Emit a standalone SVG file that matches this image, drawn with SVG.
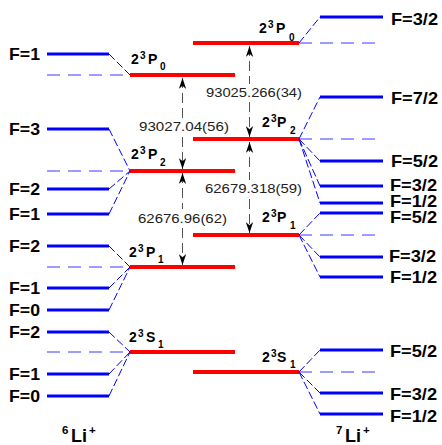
<svg xmlns="http://www.w3.org/2000/svg" width="442" height="445" viewBox="0 0 442 445">
  <defs>
    <style>
      .fine   { fill: none; stroke: #0000ff; stroke-width: 3; }
      .fs     { fill: none; stroke: #ff0000; stroke-width: 4; }
      .hdash  { fill: none; stroke: #3a3aff; stroke-width: 1; stroke-dasharray: 13 8; }
      .diag   { fill: none; stroke: #0000ff; stroke-width: 1; stroke-dasharray: 8 3; }
      .gap    { fill: none; stroke: #555; stroke-width: 1; stroke-dasharray: 10 5; }
      .flab   { font-family: "Liberation Sans", Arial, sans-serif; font-weight: bold; font-size: 17px; fill: #000; }
      .term   { font-family: "Liberation Sans", Arial, sans-serif; font-weight: bold; font-size: 14px; fill: #000; }
      .small  { font-size: 10px; }
      .num    { font-family: "Liberation Sans", Arial, sans-serif; font-size: 13.5px; fill: #222; }
      .iso    { font-family: "Liberation Sans", Arial, sans-serif; font-weight: bold; font-size: 18px; fill: #000; }
      .isos   { font-size: 11.5px; }
    </style>
    <marker id="barb" viewBox="0 0 12 8" refX="12" refY="4" markerWidth="11" markerHeight="8" markerUnits="userSpaceOnUse" orient="auto-start-reverse">
      <path d="M12,4 L0,0 L3.5,4 L0,8 Z" fill="#000"/>
    </marker>
  </defs>

  <rect width="442" height="445" fill="#fff"/>

  <!-- fine-structure levels (red) with term labels -->
  <g id="li6-2p0">
    <line class="fs" x1="130" y1="75" x2="235" y2="75"/>
    <text class="term" x="131" y="64">2<tspan class="small" x="140" y="59">3</tspan><tspan x="148" y="64">P</tspan><tspan class="small" x="160" y="70">0</tspan></text>
  </g>
  <g id="li6-2p2">
    <line class="fs" x1="130" y1="171" x2="235" y2="171"/>
    <text class="term" x="131" y="159">2<tspan class="small" x="140" y="154">3</tspan><tspan x="148" y="159">P</tspan><tspan class="small" x="160" y="166">2</tspan></text>
  </g>
  <g id="li6-2p1">
    <line class="fs" x1="130" y1="267" x2="235" y2="267"/>
    <text class="term" x="129" y="257">2<tspan class="small" x="138" y="252">3</tspan><tspan x="146" y="257">P</tspan><tspan class="small" x="158" y="263">1</tspan></text>
  </g>
  <g id="li6-2s1">
    <line class="fs" x1="130" y1="352" x2="235" y2="352"/>
    <text class="term" x="129" y="342">2<tspan class="small" x="138" y="337">3</tspan><tspan x="146" y="342">S</tspan><tspan class="small" x="158" y="348">1</tspan></text>
  </g>

  <g id="li7-2p0">
    <line class="fs" x1="193" y1="43" x2="299" y2="43"/>
    <text class="term" x="259" y="33">2<tspan class="small" x="268" y="28">3</tspan><tspan x="276" y="33">P</tspan><tspan class="small" x="289" y="41">0</tspan></text>
  </g>
  <g id="li7-2p2">
    <line class="fs" x1="193" y1="139" x2="299" y2="139"/>
    <text class="term" x="262" y="127">2<tspan class="small" x="271" y="122">3</tspan><tspan x="277" y="127">P</tspan><tspan class="small" x="290" y="134">2</tspan></text>
  </g>
  <g id="li7-2p1">
    <line class="fs" x1="193" y1="235" x2="299" y2="235"/>
    <text class="term" x="262" y="222">2<tspan class="small" x="271" y="217">3</tspan><tspan x="277" y="222">P</tspan><tspan class="small" x="290" y="229">1</tspan></text>
  </g>
  <g id="li7-2s1">
    <line class="fs" x1="193" y1="372" x2="299" y2="372"/>
    <text class="term" x="262" y="362">2<tspan class="small" x="271" y="357">3</tspan><tspan x="277" y="362">S</tspan><tspan class="small" x="290" y="368">1</tspan></text>
  </g>

  <!-- hyperfine levels, 6Li+ -->
  <g id="li6-p0-f1"><line class="fine" x1="47" y1="54" x2="109" y2="54"/><text class="flab" x="9" y="60" textLength="31" lengthAdjust="spacingAndGlyphs">F=1</text></g>
  <g id="li6-p2-f3"><line class="fine" x1="47" y1="129" x2="109" y2="129"/><text class="flab" x="9" y="135" textLength="31" lengthAdjust="spacingAndGlyphs">F=3</text></g>
  <g id="li6-p2-f2"><line class="fine" x1="47" y1="189" x2="109" y2="189"/><text class="flab" x="9" y="195" textLength="31" lengthAdjust="spacingAndGlyphs">F=2</text></g>
  <g id="li6-p2-f1"><line class="fine" x1="47" y1="214" x2="109" y2="214"/><text class="flab" x="9" y="220" textLength="31" lengthAdjust="spacingAndGlyphs">F=1</text></g>
  <g id="li6-p1-f2"><line class="fine" x1="47" y1="246" x2="109" y2="246"/><text class="flab" x="9" y="252" textLength="31" lengthAdjust="spacingAndGlyphs">F=2</text></g>
  <g id="li6-p1-f1"><line class="fine" x1="47" y1="288" x2="109" y2="288"/><text class="flab" x="9" y="294" textLength="31" lengthAdjust="spacingAndGlyphs">F=1</text></g>
  <g id="li6-p1-f0"><line class="fine" x1="47" y1="310" x2="109" y2="310"/><text class="flab" x="9" y="316" textLength="31" lengthAdjust="spacingAndGlyphs">F=0</text></g>
  <g id="li6-s1-f2"><line class="fine" x1="47" y1="332" x2="109" y2="332"/><text class="flab" x="9" y="338" textLength="31" lengthAdjust="spacingAndGlyphs">F=2</text></g>
  <g id="li6-s1-f1"><line class="fine" x1="47" y1="374" x2="109" y2="374"/><text class="flab" x="9" y="380" textLength="31" lengthAdjust="spacingAndGlyphs">F=1</text></g>
  <g id="li6-s1-f0"><line class="fine" x1="47" y1="396" x2="109" y2="396"/><text class="flab" x="9" y="402" textLength="31" lengthAdjust="spacingAndGlyphs">F=0</text></g>

  <!-- hyperfine levels, 7Li+ -->
  <g id="li7-p0-f32"><line class="fine" x1="320" y1="17" x2="383" y2="17"/><text class="flab" x="391" y="25" textLength="47" lengthAdjust="spacingAndGlyphs">F=3/2</text></g>
  <g id="li7-p2-f72"><line class="fine" x1="320" y1="97" x2="383" y2="97"/><text class="flab" x="391" y="104" textLength="47" lengthAdjust="spacingAndGlyphs">F=7/2</text></g>
  <g id="li7-p2-f52"><line class="fine" x1="320" y1="161" x2="383" y2="161"/><text class="flab" x="391" y="167" textLength="47" lengthAdjust="spacingAndGlyphs">F=5/2</text></g>
  <g id="li7-p2-f32"><line class="fine" x1="320" y1="186" x2="383" y2="186"/><text class="flab" x="390" y="191" textLength="47" lengthAdjust="spacingAndGlyphs">F=3/2</text></g>
  <g id="li7-p2-f12"><line class="fine" x1="320" y1="203" x2="383" y2="203"/><text class="flab" x="390" y="207" textLength="47" lengthAdjust="spacingAndGlyphs">F=1/2</text></g>
  <g id="li7-p1-f52"><line class="fine" x1="320" y1="213" x2="383" y2="213"/><text class="flab" x="390" y="223" textLength="47" lengthAdjust="spacingAndGlyphs">F=5/2</text></g>
  <g id="li7-p1-f32"><line class="fine" x1="320" y1="257" x2="383" y2="257"/><text class="flab" x="389" y="262" textLength="47" lengthAdjust="spacingAndGlyphs">F=3/2</text></g>
  <g id="li7-p1-f12"><line class="fine" x1="320" y1="277" x2="383" y2="277"/><text class="flab" x="390" y="283" textLength="47" lengthAdjust="spacingAndGlyphs">F=1/2</text></g>
  <g id="li7-s1-f52"><line class="fine" x1="320" y1="350" x2="383" y2="350"/><text class="flab" x="390" y="357" textLength="47" lengthAdjust="spacingAndGlyphs">F=5/2</text></g>
  <g id="li7-s1-f32"><line class="fine" x1="320" y1="393" x2="383" y2="393"/><text class="flab" x="390" y="400" textLength="47" lengthAdjust="spacingAndGlyphs">F=3/2</text></g>
  <g id="li7-s1-f12"><line class="fine" x1="320" y1="414" x2="383" y2="414"/><text class="flab" x="390" y="422" textLength="47" lengthAdjust="spacingAndGlyphs">F=1/2</text></g>

  <!-- connectors: centroid guides, hyperfine fan-outs, interval arrows -->
  <g id="connectors">
    <!-- unsplit (centroid) positions -->
    <line class="hdash" x1="47" y1="75" x2="130" y2="75"/>
    <line class="hdash" x1="47" y1="171" x2="130" y2="171"/>
    <line class="hdash" x1="47" y1="267" x2="130" y2="267"/>
    <line class="hdash" x1="47" y1="352" x2="130" y2="352"/>
    <line class="hdash" x1="299" y1="43" x2="383" y2="43"/>
    <line class="hdash" x1="299" y1="139" x2="383" y2="139"/>
    <line class="hdash" x1="299" y1="235" x2="383" y2="235"/>
    <line class="hdash" x1="299" y1="372" x2="383" y2="372"/>

    <!-- 6Li+ fan-outs -->
    <line class="diag" x1="109" y1="54" x2="130" y2="75"/>
    <line class="diag" x1="109" y1="129" x2="130" y2="171"/>
    <line class="diag" x1="109" y1="189" x2="130" y2="171"/>
    <line class="diag" x1="109" y1="214" x2="130" y2="171"/>
    <line class="diag" x1="109" y1="246" x2="130" y2="267"/>
    <line class="diag" x1="109" y1="288" x2="130" y2="267"/>
    <line class="diag" x1="109" y1="310" x2="130" y2="267"/>
    <line class="diag" x1="109" y1="332" x2="130" y2="352"/>
    <line class="diag" x1="109" y1="374" x2="130" y2="352"/>
    <line class="diag" x1="109" y1="396" x2="130" y2="352"/>

    <!-- 7Li+ fan-outs -->
    <line class="diag" x1="299" y1="43" x2="320" y2="17"/>
    <line class="diag" x1="299" y1="139" x2="320" y2="97"/>
    <line class="diag" x1="299" y1="139" x2="320" y2="161"/>
    <line class="diag" x1="299" y1="139" x2="320" y2="186"/>
    <line class="diag" x1="299" y1="139" x2="320" y2="203"/>
    <line class="diag" x1="299" y1="235" x2="320" y2="213"/>
    <line class="diag" x1="299" y1="235" x2="320" y2="257"/>
    <line class="diag" x1="299" y1="235" x2="320" y2="277"/>
    <line class="diag" x1="299" y1="372" x2="320" y2="350"/>
    <line class="diag" x1="299" y1="372" x2="320" y2="393"/>
    <line class="diag" x1="299" y1="372" x2="320" y2="414"/>

    <!-- interval arrows, split around their values -->
    <path class="gap" d="M182.5,78 V118" marker-start="url(#barb)"/>
    <path class="gap" d="M182.5,137 V169" marker-end="url(#barb)"/>
    <path class="gap" d="M182.5,173 V209" marker-start="url(#barb)"/>
    <path class="gap" d="M182.5,228 V265" marker-end="url(#barb)"/>
    <path class="gap" d="M249.5,46 V84" marker-start="url(#barb)"/>
    <path class="gap" d="M249.5,102 V137" marker-end="url(#barb)"/>
    <path class="gap" d="M249.5,142 V180" marker-start="url(#barb)"/>
    <path class="gap" d="M249.5,199 V233" marker-end="url(#barb)"/>
  </g>

  <!-- interval values -->
  <g id="intervals">
    <text class="num" x="139" y="131" textLength="90" lengthAdjust="spacingAndGlyphs">93027.04(56)</text>
    <text class="num" x="206" y="97" textLength="96" lengthAdjust="spacingAndGlyphs">93025.266(34)</text>
    <text class="num" x="205" y="193" textLength="97" lengthAdjust="spacingAndGlyphs">62679.318(59)</text>
    <text class="num" x="138" y="223" textLength="89" lengthAdjust="spacingAndGlyphs">62676.96(62)</text>
  </g>

  <!-- isotope captions -->
  <g id="isotopes">
    <text class="iso" x="62" y="442"><tspan class="isos" y="434">6</tspan><tspan x="71" y="442">Li</tspan><tspan class="isos" x="89" y="434">+</tspan></text>
    <text class="iso" x="336" y="442"><tspan class="isos" y="434">7</tspan><tspan x="345" y="442">Li</tspan><tspan class="isos" x="363" y="434">+</tspan></text>
  </g>
</svg>
